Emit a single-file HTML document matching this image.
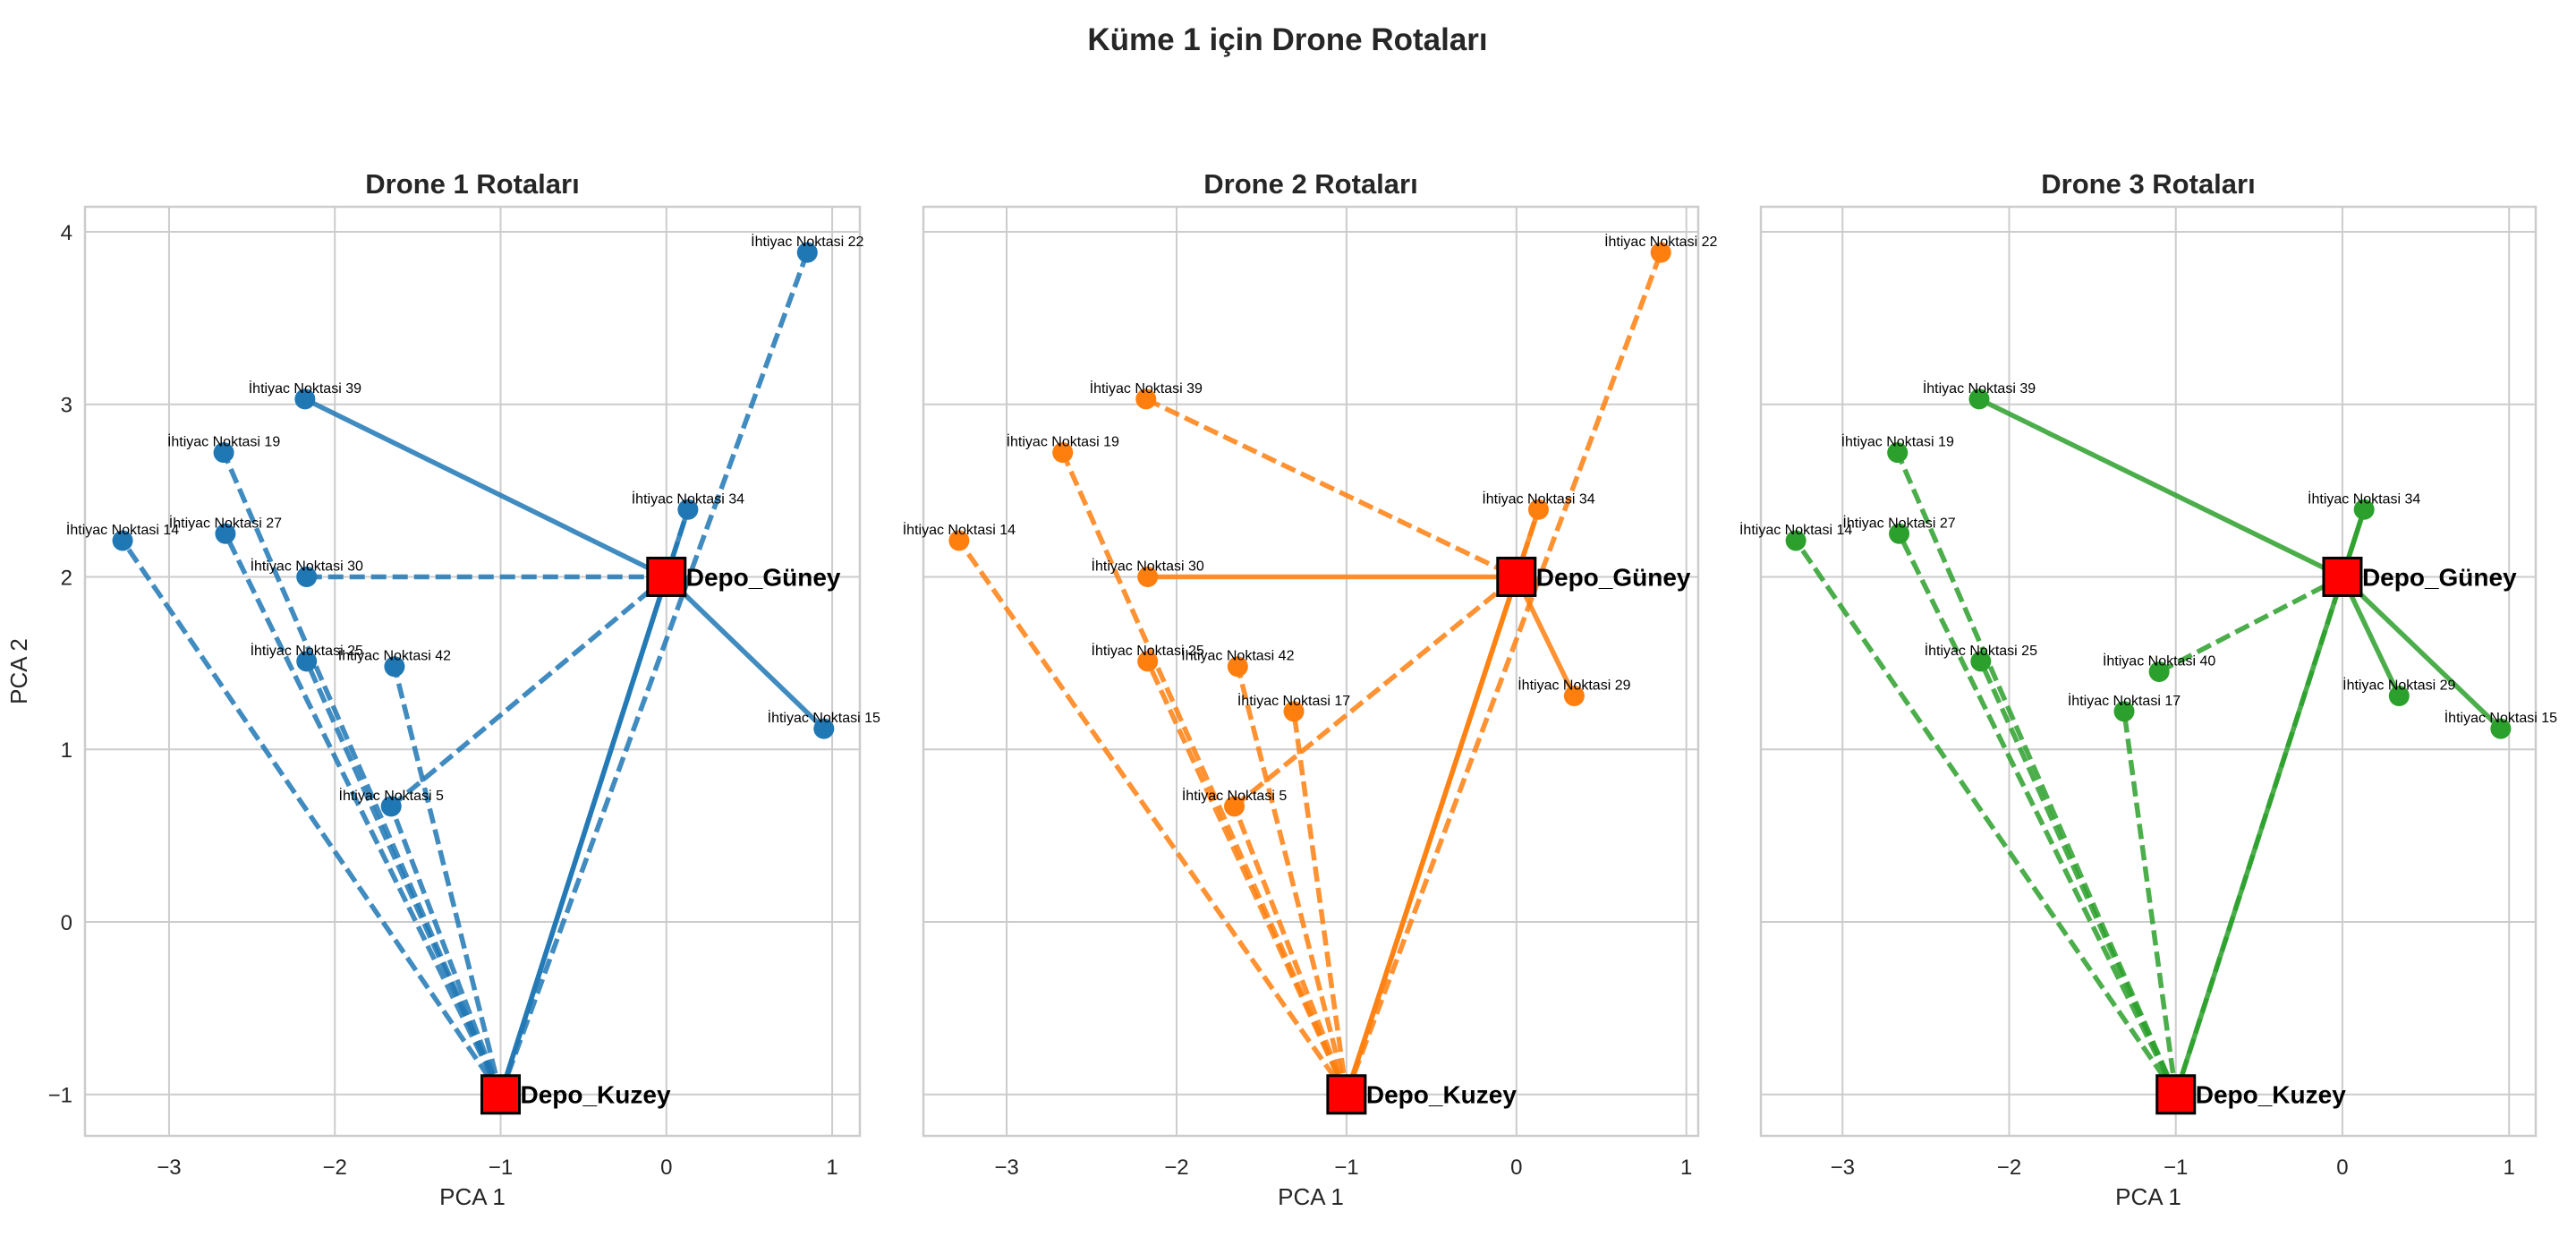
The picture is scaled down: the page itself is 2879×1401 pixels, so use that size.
<!DOCTYPE html>
<html><head><meta charset="utf-8"><style>
html,body{margin:0;padding:0;background:#fff}
svg{display:block;font-family:"Liberation Sans",sans-serif}
</style></head><body>
<svg id="fig" width="2879" height="1401" viewBox="0 0 2879 1401" xmlns="http://www.w3.org/2000/svg">
<text x="1439" y="56" text-anchor="middle" font-size="35" font-weight="bold" fill="#262626">Küme 1 için Drone Rotaları</text>
</svg>
<script>
const pointNames = ["22","39","19","14","27","30","25","42","5","34","15","29","17","40"];
const pointX = [0.85,-2.18,-2.67,-3.28,-2.66,-2.17,-2.17,-1.64,-1.66,0.13,0.95,0.34,-1.31,-1.10];
const pointY = [3.88,3.03,2.72,2.21,2.25,2.00,1.51,1.48,0.67,2.39,1.12,1.31,1.22,1.45];
const depotNames = ["Depo_Güney","Depo_Kuzey"];
const depotX = [0,-1];
const depotY = [2,-1];
const xTicks = [-3,-2,-1,0,1];
const yTicks = [-1,0,1,2,3,4];
const droneTitles = ["Drone 1 Rotaları","Drone 2 Rotaları","Drone 3 Rotaları"];
const droneColors = ["#1f77b4","#ff7f0e","#2ca02c"];
const dronePoints = [
  ["22","39","19","14","27","30","25","42","5","34","15"],
  ["22","39","19","14","30","25","42","17","5","34","29"],
  ["39","19","14","27","25","40","17","34","29","15"]
];
// segments: [from, to, dashed(1)/solid(0)]
const droneSegs = [
  [["K","14",1],["K","27",1],["K","19",1],["K","25",1],["K","42",1],["K","5",1],["5","G",1],["30","G",1],["K","22",1],["G","34",1],["G","39",0],["G","15",0],["G","K",0],["K","34",0]],
  [["K","14",1],["K","19",1],["K","25",1],["K","42",1],["K","17",1],["K","5",1],["5","G",1],["39","G",1],["K","22",1],["G","34",1],["30","G",0],["G","29",0],["G","K",0],["K","34",0]],
  [["K","14",1],["K","19",1],["K","27",1],["K","25",1],["K","17",1],["40","G",1],["K","G",1],["G","39",0],["G","15",0],["G","34",0],["G","29",0],["K","34",0]]
];
const XMINS=[-3.507,-3.49,-3.49], XMAXS=[1.167,1.07,1.16];
const YMIN=-1.24, YMAX=4.145;
const panelLeft=[95,1032,1968], PW=866, PT=231, PH=1038;
const NS="http://www.w3.org/2000/svg";
const svg=document.getElementById('fig');
function mk(tag,attrs,parent){const e=document.createElementNS(NS,tag);for(const k in attrs)e.setAttribute(k,attrs[k]);parent.appendChild(e);return e;}
function coord(id){
  if(id==="G")return [depotX[0],depotY[0]];
  if(id==="K")return [depotX[1],depotY[1]];
  const i=pointNames.indexOf(id);return [pointX[i],pointY[i]];
}
droneTitles.forEach((title,p)=>{
  const L=panelLeft[p];
  const XMIN=XMINS[p], XMAX=XMAXS[p];
  const sx=v=>L+(v-XMIN)/(XMAX-XMIN)*PW;
  const sy=v=>PT+(YMAX-v)/(YMAX-YMIN)*PH;
  const g=mk('g',{},svg);
  
  
  const grid=mk('g',{},g);
  
  
  xTicks.forEach(t=>{
    mk('line',{x1:sx(t),x2:sx(t),y1:PT,y2:PT+PH,stroke:'#cccccc','stroke-width':2},grid);
    const tl=mk('text',{x:sx(t),y:1312,'text-anchor':'middle','font-size':24,fill:'#262626'},g);
    
    
    tl.textContent=(t<0?'−'+(-t):t);
  });
  yTicks.forEach(t=>{
    mk('line',{x1:L,x2:L+PW,y1:sy(t),y2:sy(t),stroke:'#cccccc','stroke-width':2},grid);
    if(p===0){
      const tl=mk('text',{x:L-14,y:sy(t)+9,'text-anchor':'end','font-size':24,fill:'#262626'},g);
      
      
      tl.textContent=(t<0?'−'+(-t):t);
    }
  });
  const fr=mk('rect',{x:L,y:PT,width:PW,height:PH,fill:'none',stroke:'#cccccc','stroke-width':2.5},g);
  
  
  const tt=mk('text',{x:L+PW/2,y:216,'text-anchor':'middle','font-size':31,'font-weight':'bold',fill:'#262626'},g);
  
  
  tt.textContent=title;
  const xt=mk('text',{x:L+PW/2,y:1346,'text-anchor':'middle','font-size':26,fill:'#262626'},g);
  
  
  xt.textContent='PCA 1';
  if(p===0){
    const yt=mk('text',{x:0,y:0,'text-anchor':'middle','font-size':26,fill:'#262626',transform:'translate(30,'+(PT+PH/2)+') rotate(-90)'},g);
    
    
    yt.textContent='PCA 2';
  }
  const col=droneColors[p];
  droneSegs[p].forEach(s=>{
    const a=coord(s[0]),b=coord(s[1]);
    const ln=mk('line',{x1:sx(a[0]),y1:sy(a[1]),x2:sx(b[0]),y2:sy(b[1]),stroke:col,'stroke-width':5.5,'stroke-opacity':0.85},g);
    if(s[2])ln.setAttribute('stroke-dasharray','17 7');
    
    
  });
  dronePoints[p].forEach(n=>{
    const i=pointNames.indexOf(n);
    const c=mk('circle',{cx:sx(pointX[i]),cy:sy(pointY[i]),r:11.5,fill:col},g);
    
    
    const tl=mk('text',{x:sx(pointX[i]),y:sy(pointY[i])-7,'text-anchor':'middle','font-size':16,fill:'#000'},g);
    
    
    tl.textContent='İhtiyac Noktasi '+n;
  });
  depotNames.forEach((d,i)=>{
    const r=mk('rect',{x:sx(depotX[i])-21,y:sy(depotY[i])-21,width:42,height:42,fill:'#ff0000',stroke:'#000','stroke-width':3},g);
    
    
    const tl=mk('text',{x:sx(depotX[i])+22,y:sy(depotY[i])+10,'font-size':28,'font-weight':'bold',fill:'#000'},g);
    
    
    tl.textContent=d;
  });
});
</script>
</body></html>
